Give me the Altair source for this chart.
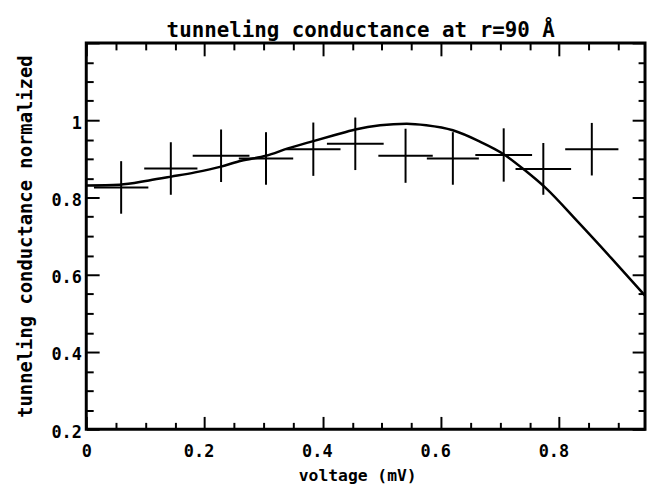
import altair as alt
import pandas as pd

# measured cross data points (voltage in mV, normalized conductance)
voltage = [0.059, 0.143, 0.228, 0.304, 0.384, 0.455, 0.540, 0.620, 0.706, 0.773, 0.855]
conductance = [0.826, 0.875, 0.908, 0.901, 0.925, 0.939, 0.908, 0.901, 0.910, 0.874, 0.925]
voltage_err = [0.046, 0.045, 0.048, 0.046, 0.046, 0.048, 0.046, 0.044, 0.048, 0.047, 0.045]
conductance_err = [0.068, 0.068, 0.068, 0.068, 0.069, 0.068, 0.070, 0.068, 0.069, 0.067, 0.068]

# theoretical curve
fit_voltage = [0.0, 0.056, 0.106, 0.144, 0.184, 0.228, 0.262, 0.304, 0.341, 0.384, 0.419,
               0.455, 0.497, 0.542, 0.575, 0.620, 0.664, 0.706, 0.743, 0.776, 0.832, 0.888,
               0.945]
fit_conductance = [0.831, 0.833, 0.844, 0.854, 0.865, 0.880, 0.895, 0.908, 0.927, 0.946, 0.961,
                   0.976, 0.987, 0.991, 0.987, 0.974, 0.946, 0.912, 0.869, 0.826, 0.736, 0.643,
                   0.546]

x_labels = [0, 0.2, 0.4, 0.6, 0.8]
y_labels = [0.2, 0.4, 0.6, 0.8, 1.0]
x_ticks = [0.0, 0.05, 0.1, 0.15, 0.2, 0.25, 0.3, 0.35, 0.4, 0.45, 0.5, 0.55, 0.6, 0.65,
           0.7, 0.75, 0.8, 0.85, 0.9]
y_ticks = [0.2, 0.25, 0.3, 0.35, 0.4, 0.45, 0.5, 0.55, 0.6, 0.65, 0.7, 0.75, 0.8, 0.85,
           0.9, 0.95, 1.0, 1.05, 1.1, 1.15, 1.2]

pts = pd.DataFrame({
    "v": voltage,
    "g": conductance,
    "v_lo": [v - e for v, e in zip(voltage, voltage_err)],
    "v_hi": [v + e for v, e in zip(voltage, voltage_err)],
    "g_lo": [g - e for g, e in zip(conductance, conductance_err)],
    "g_hi": [g + e for g, e in zip(conductance, conductance_err)],
})
fit = pd.DataFrame({"v": fit_voltage, "g": fit_conductance})

W, H = 564, 390
FONT = "DejaVu Sans Mono"

xs = alt.Scale(domain=[0, 0.945], nice=False, zero=False)
ys = alt.Scale(domain=[0.2, 1.2], nice=False, zero=False)

major_test = "abs(round(datum.value * 20)) % 4 == 0"
tick_size = {"condition": {"test": major_test, "value": 13}, "value": 7}


def tick_axis(orient, offset, values):
    return alt.Axis(orient=orient, offset=offset, values=values, labels=False,
                    domain=False, grid=False, ticks=True, tickSize=tick_size,
                    tickWidth=2, tickColor="black", title=None)


xa_labels = alt.Axis(
    orient="bottom", values=x_labels, format="~g", ticks=False, tickSize=0,
    domain=False, grid=False, labelFlush=False, labelOverlap=False,
    labelFont=FONT, labelFontSize=17, labelFontWeight="bold", labelColor="black",
    labelPadding=14,
    labelOffset={"condition": {"test": "datum.value == 0", "value": 0}, "value": -6},
    title="voltage (mV)", titleFont=FONT, titleFontSize=16.5, titleFontWeight="bold",
    titleColor="black", titleX=273.5, titleY=47, titleAlign="center",
    titleBaseline="middle",
)
ya_labels = alt.Axis(
    orient="left", values=y_labels, format="~g", ticks=False, tickSize=0,
    domain=False, grid=False, labelFlush=False, labelOverlap=False,
    labelFont=FONT, labelFontSize=17, labelFontWeight="bold", labelColor="black",
    labelPadding=5, labelOffset=3,
    title="tunneling conductance normalized", titleFont=FONT, titleFontSize=19,
    titleFontWeight="bold", titleColor="black", titleAngle=270, titleX=-61,
    titleY=195, titleAlign="center", titleBaseline="middle",
)

hbar = alt.Chart(pts).mark_rule(color="black", strokeWidth=2).encode(
    x=alt.X("v_lo:Q", scale=xs, axis=xa_labels),
    x2="v_hi:Q",
    y=alt.Y("g:Q", scale=ys, axis=ya_labels),
)
vbar = alt.Chart(pts).mark_rule(color="black", strokeWidth=2).encode(
    x=alt.X("v:Q", scale=xs, axis=tick_axis("top", -H, x_ticks)),
    y=alt.Y("g_lo:Q", scale=ys, axis=tick_axis("right", -W, y_ticks)),
    y2="g_hi:Q",
)
line = alt.Chart(fit).mark_line(color="black", strokeWidth=2.5,
                                interpolate="monotone", clip=True).encode(
    x=alt.X("v:Q", scale=xs, axis=tick_axis("bottom", -H, x_ticks)),
    y=alt.Y("g:Q", scale=ys, axis=tick_axis("left", -W, y_ticks)),
)

chart = alt.layer(hbar, vbar, line).resolve_axis(
    x="independent", y="independent"
).properties(
    width=W, height=H,
    title=alt.TitleParams(text="tunneling conductance at r=90 Å", font=FONT,
                          fontSize=21, fontWeight="bold", color="black",
                          anchor="middle", frame="group", offset=6,
                          baseline="alphabetic", dx=-5, dy=22),
    padding={"left": 79, "top": 33, "right": 2, "bottom": 60},
    autosize=alt.AutoSizeParams(type="none"),
    background="white",
).configure_view(stroke="black", strokeWidth=3)

chart.save("out.html", embed_options={"renderer": "svg", "actions": False})
